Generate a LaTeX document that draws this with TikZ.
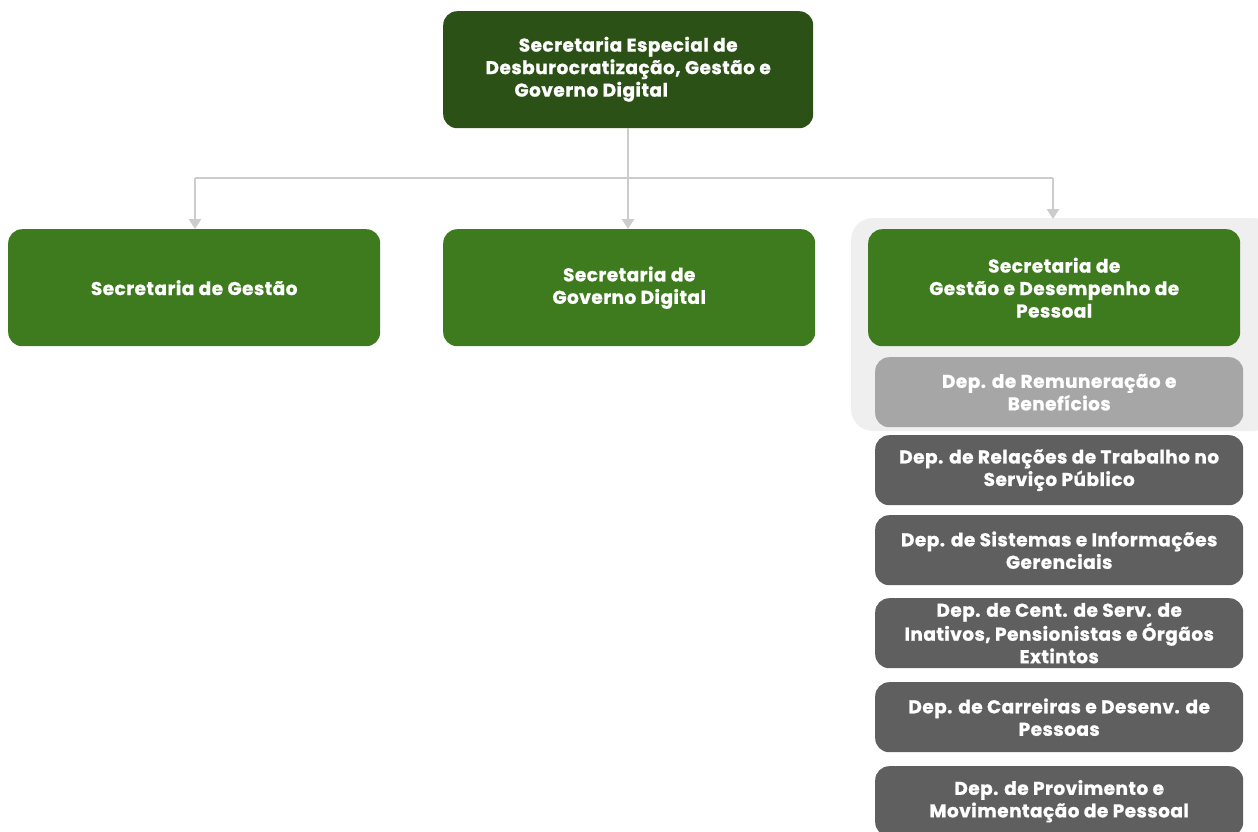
\documentclass[tikz,border=0pt]{standalone}
\usepackage{fontspec}
\setmainfont{Poppins}[BoldFeatures={FakeBold=1},LetterSpace=2.5]
\usetikzlibrary{arrows.meta}
\definecolor{topgreen}{HTML}{2C5117}
\definecolor{secgreen}{HTML}{3E7B1F}
\definecolor{grpgray}{HTML}{EFEFEF}
\definecolor{lightdep}{HTML}{A6A6A6}
\definecolor{darkdep}{HTML}{5F5F5F}
\definecolor{linkgray}{HTML}{CCCCCC}
\tikzset{
  box/.style={rounded corners=14pt, text=white, font=\fontsize{18.5}{22.5}\selectfont\bfseries, align=center, inner sep=0pt, anchor=north west},
  topbox/.style={box, fill=topgreen, minimum width=370pt, minimum height=117pt},
  secbox/.style={box, fill=secgreen, minimum width=372pt, minimum height=117pt},
  depbox/.style={box, fill=darkdep, minimum width=368pt, minimum height=70pt},
  link/.style={draw=linkgray, line width=2.5pt, -{Triangle[length=10pt,width=12pt]}},
}
\begin{document}
\begin{tikzpicture}[x=1pt,y=-1pt]
\useasboundingbox (0,0) rectangle (1258,831);
% group background
\fill[grpgray, rounded corners=22pt] (851,218) rectangle (1275,431);
\node[topbox, text depth=6pt] (top) at (443,11) {Secretaria Especial de\\Desburocratização, Gestão e\\Governo Digital\hspace*{74pt}};
\node[secbox] (sg) at (8,229) {Secretaria de Gestão};
\node[secbox] (sgd) at (443,229) {Secretaria de\\Governo Digital};
\node[secbox, minimum width=372pt] (sgp) at (868,229) {Secretaria de\\Gestão e Desempenho de\\Pessoal};
\node[depbox, fill=lightdep] (d1) at (875,357) {Dep. de Remuneração e\\Benefícios};
\node[depbox] (d2) at (875,435) {Dep. de Relações de Trabalho no\\Serviço Público};
\node[depbox] (d3) at (875,515) {Dep. de Sistemas e Informações\\Gerenciais};
\node[depbox] (d4) at (875,598) {Dep. de Cent. de Serv. de\\Inativos, Pensionistas e Órgãos\\Extintos};
\node[depbox] (d5) at (875,682) {Dep. de Carreiras e Desenv. de\\Pessoas};
\node[depbox] (d6) at (875,766) {Dep. de Provimento e\\Movimentação de Pessoal};
\coordinate (j) at (628,178);
\coordinate (jl) at (195,178);
\coordinate (jr) at (1053,178);
\draw[draw=linkgray, line width=2.5pt] (top.south -| j) -- (j);
\draw[draw=linkgray, line width=2.5pt] (jl) -- (jr);
\draw[link] (jl) -- (jl |- sg.north);
\draw[link] (j) -- (j |- sgd.north);
\draw[link] (jr) -- (jr |- 0,219);
\end{tikzpicture}
\end{document}
